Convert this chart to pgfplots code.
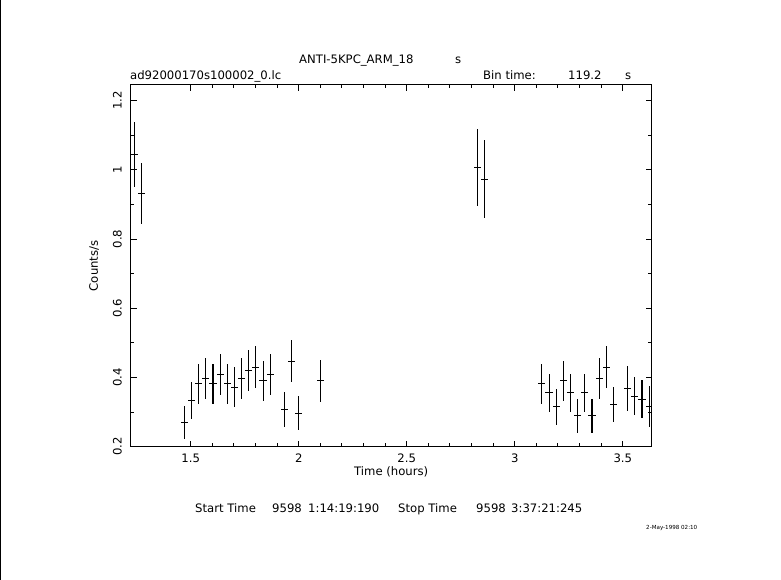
\documentclass[border=0pt]{standalone}
\usepackage{pgfplots}
\pgfplotsset{compat=1.18}
\usepackage{pgfplotstable}
\usepackage{fontspec}
\setmainfont{DejaVu Sans}

% light curve: time (h), rate, half bin, rate error
\pgfplotstableread{
t      r      ex      ey
1.2390 1.043  0.01655 0.094
1.2721 0.932  0.01655 0.089
1.4707 0.271  0.01655 0.048
1.5038 0.333  0.01655 0.054
1.5369 0.382  0.01655 0.058
1.5700 0.398  0.01655 0.059
1.6031 0.382  0.01655 0.058
1.6362 0.408  0.01655 0.059
1.6693 0.382  0.01655 0.058
1.7024 0.372  0.01655 0.057
1.7355 0.398  0.01655 0.059
1.7686 0.420  0.01655 0.060
1.8017 0.430  0.01655 0.060
1.8348 0.390  0.01655 0.058
1.8679 0.408  0.01655 0.059
1.9341 0.307  0.01655 0.051
1.9672 0.447  0.01655 0.061
2.0003 0.297  0.01655 0.050
2.0996 0.390  0.01655 0.061
2.8278 1.007  0.01655 0.112
2.8609 0.973  0.01655 0.112
3.1257 0.382  0.01655 0.058
3.1588 0.356  0.01655 0.055
3.1919 0.315  0.01655 0.051
3.2250 0.390  0.01655 0.058
3.2581 0.356  0.01655 0.055
3.2912 0.289  0.01655 0.050
3.3243 0.356  0.01655 0.055
3.3574 0.289  0.01655 0.050
3.3905 0.398  0.01655 0.059
3.4236 0.430  0.01655 0.060
3.4567 0.322  0.01655 0.051
3.5229 0.369  0.01655 0.065
3.5560 0.346  0.01655 0.054
3.5891 0.337  0.01655 0.055
3.6222 0.315  0.01655 0.059
}\lc

\begin{document}
\begin{tikzpicture}[x=1bp,y=1bp,font=\fontsize{11.7}{13}\selectfont]
\path[use as bounding box] (0,0) rectangle (781,580);
\draw[line width=1.2bp] (0.6,0) -- (0.6,580);

\begin{axis}[
  at={(130.7bp,133.3bp)}, anchor=south west,
  scale only axis, width=521bp, height=361.7bp,
  xmin=1.222, xmax=3.634, ymin=0.2, ymax=1.245,
  xtick={1.5,2,2.5,3,3.5}, ytick={0.2,0.4,0.6,0.8,1,1.2},
  minor x tick num=4, minor y tick num=1,
  tick align=inside, tick pos=both,
  major tick length=6bp, minor tick length=3.5bp,
  every tick/.style={black, line width=1bp},
  axis line style={line width=1bp},
  /pgf/number format/assume math mode=true,
  xticklabel style={anchor=base}, xticklabel shift=16bp,
  yticklabel style={rotate=90, anchor=base}, yticklabel shift=9bp,
  xlabel={Time (hours)},
  xlabel style={at={(axis description cs:0.5,0)}, anchor=base, yshift=-29bp},
  ylabel={Counts/s},
  ylabel style={at={(axis description cs:-0.0628,0.5)}, anchor=base},
]
\addplot[black, line width=1.1bp, only marks, mark=*, mark size=0pt,
  error bars/.cd, x dir=both, x explicit, y dir=both, y explicit,
  error mark=none, error bar style={line width=1.1bp}]
  table[x=t, y=r, x error=ex, y error=ey] {\lc};
\end{axis}

\node[anchor=base west, inner sep=0] at (299,516) {ANTI-5KPC\_ARM\_18};
\node[anchor=base west, inner sep=0] at (455,516) {s};
\node[anchor=base west, inner sep=0] at (130,500) {ad92000170s100002\_0.lc};
\node[anchor=base west, inner sep=0] at (483,500) {Bin time:};
\node[anchor=base west, inner sep=0] at (568,500) {119.2};
\node[anchor=base west, inner sep=0] at (625,500) {s};

\node[anchor=base west, inner sep=0] at (195,67) {Start Time};
\node[anchor=base west, inner sep=0] at (272,67) {9598};
\node[anchor=base west, inner sep=0] at (308,67) {1:14:19:190};
\node[anchor=base west, inner sep=0] at (398,67) {Stop Time};
\node[anchor=base west, inner sep=0] at (476,67) {9598};
\node[anchor=base west, inner sep=0] at (511,67) {3:37:21:245};

\node[anchor=base west, inner sep=0, font=\fontsize{5.6}{7}\selectfont] at (646,50) {2-May-1998 02:10};
\end{tikzpicture}
\end{document}
